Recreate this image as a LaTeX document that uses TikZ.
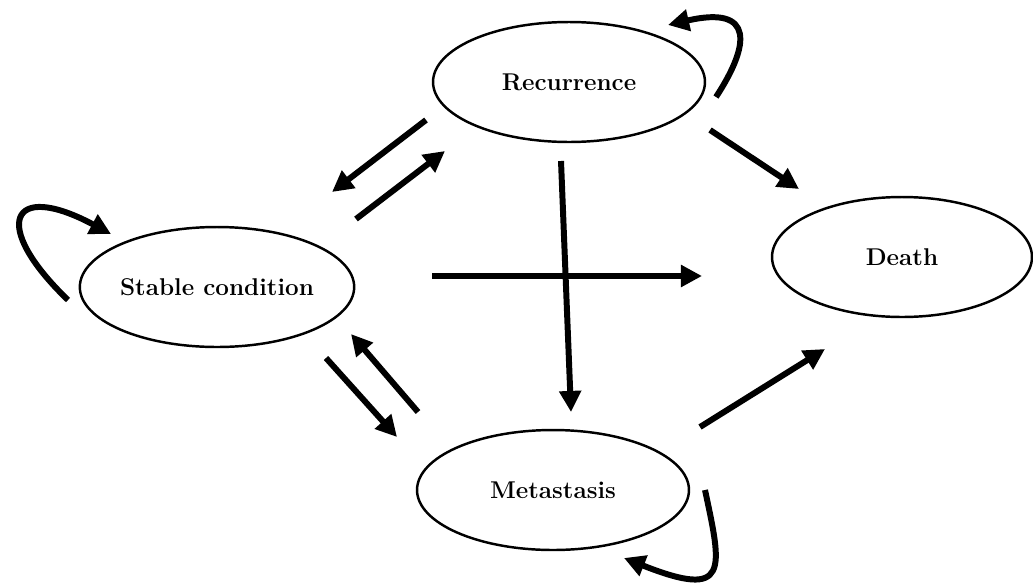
\documentclass[tikz,border=0pt]{standalone}
\usepackage{tikz}
\usetikzlibrary{shapes.geometric}
\usetikzlibrary{arrows.meta}

\tikzset{
  phase/.style={ellipse,draw,line width=1.4pt,minimum width=5.44cm,minimum height=2.4cm,inner sep=0pt,font=\fontsize{13.8}{16}\selectfont\bfseries},
  move/.style={-{Triangle[length=12pt,width=12pt]},line width=3.4pt}
}

\begin{document}
\begin{tikzpicture}[x=0.02cm,y=-0.02cm]
   \useasboundingbox (0,0) rectangle (1033,585);
   \node[phase] (rec) at (569,82) {Recurrence};
   \node[phase] (sta) at (217,287) {Stable condition};
   \node[phase] (met) at (553,490) {Metastasis};
   \node[phase,minimum width=5.2cm] (dea) at (902,257) {Death};
   % arrow ends
   \coordinate (rs1) at (426,120); \coordinate (rs2) at (332,192);
   \coordinate (sr1) at (356,219); \coordinate (sr2) at (445,151);
   \coordinate (rd1) at (710,130); \coordinate (rd2) at (799,189);
   \coordinate (rm1) at (561,161); \coordinate (rm2) at (571,412);
   \coordinate (sd1) at (432,276); \coordinate (sd2) at (702,276);
   \coordinate (sm1) at (326,358); \coordinate (sm2) at (397,437);
   \coordinate (ms1) at (418,412); \coordinate (ms2) at (351,334);
   \coordinate (md1) at (700,427); \coordinate (md2) at (825,349);
   \coordinate (sl1) at (68,300);  \coordinate (sl2) at (111,234);
   \coordinate (rl1) at (716,97);  \coordinate (rl2) at (668,25);
   \coordinate (ml1) at (705,490); \coordinate (ml2) at (624,558);
    \path[move]
    (rs1) edge (rs2)
    (sr1) edge (sr2)
    (rd1) edge (rd2)
    (rm1) edge (rm2)
    (sd1) edge (sd2)
    (sm1) edge (sm2)
    (ms1) edge (ms2)
    (md1) edge (md2);
   % self loops
   \draw[move] (sl1) .. controls (-10,225) and (10,180) .. (sl2);
   \draw[move] (rl1) .. controls (750,45) and (755,5) .. (rl2);
   \draw[move] (ml1) .. controls (722,570) and (730,600) .. (ml2);
\end{tikzpicture}
\end{document}
